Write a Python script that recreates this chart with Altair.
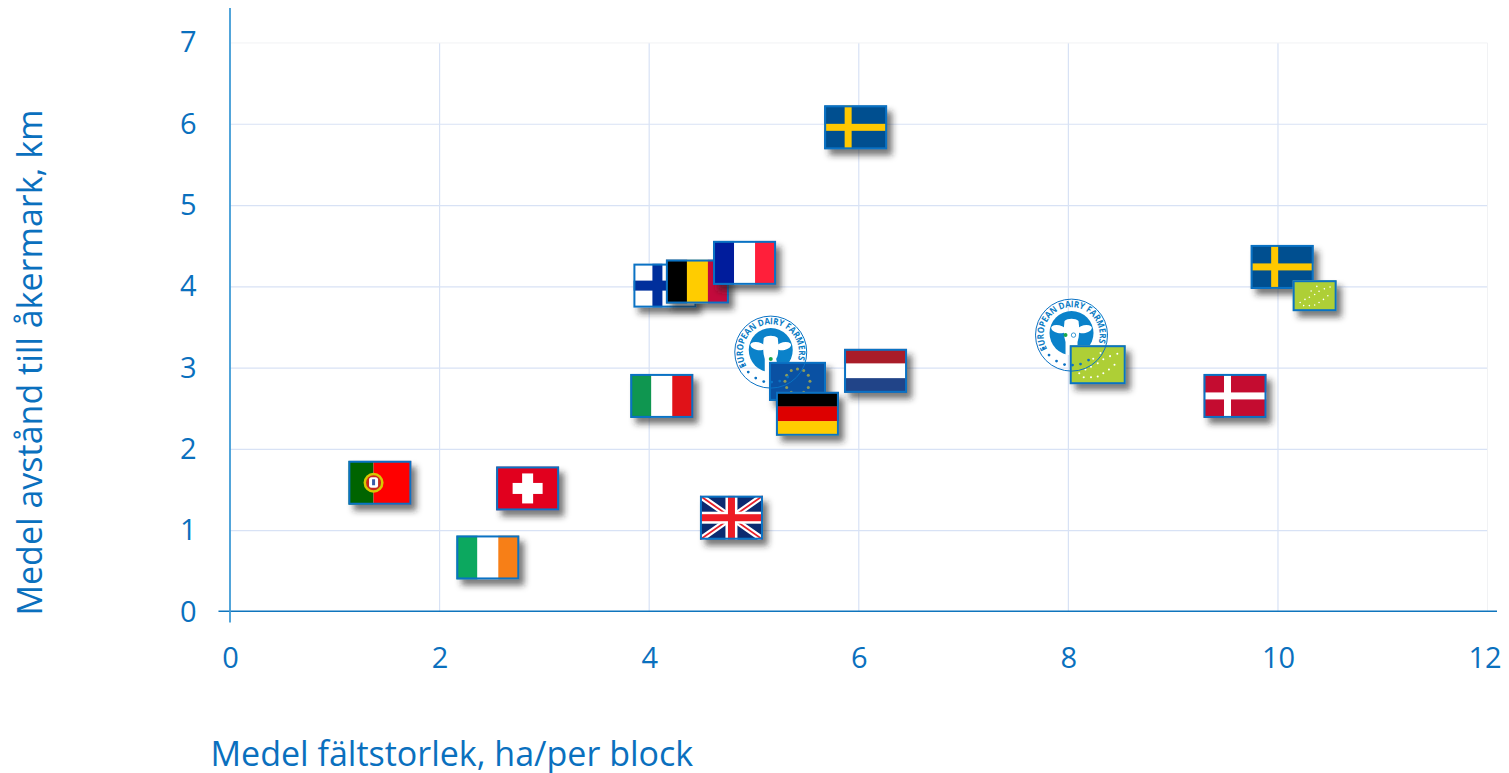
import base64
import math
import altair as alt
import pandas as pd

# ---- values ----
symbols = ["fi", "be", "fr", "se", "se", "eco_s", "logo_base", "eu", "logo_top", "de", "nl", "it",
           "logo_base2", "eco", "logo_top2", "dk", "pt", "ch", "gb", "ie"]
field_size = [4.15, 4.46, 4.91, 5.97, 10.04, 10.35, 5.16, 5.415, 5.16, 5.51, 6.16, 4.12,
              8.03, 8.28, 8.03, 9.59, 1.43, 2.84, 4.785, 2.46]
distance = [4.015, 4.065, 4.295, 5.962, 4.245, 3.891, 3.197, 2.837, 3.197, 2.438, 2.967, 2.658,
            3.406, 3.042, 3.406, 2.658, 1.590, 1.520, 1.160, 0.671]
x_ticks = [0, 2, 4, 6, 8, 10, 12]
y_ticks = [0, 1, 2, 3, 4, 5, 6, 7]
x_title = "Medel fältstorlek, ha/per block"
y_title = "Medel avstånd till åkermark, km"
logo_text = "EUROPEAN DAIRY FARMERS"

BLUE = "#0A70BE"
BORDER = "#0A72C4"
GRID = "#D8E2F5"
FAINT = "#F1F2F4"
FONT = "Open Sans"

PAD = 16


def wrap(w, h, body):
    """Wrap a flag body (drawn in a w x h box) with blue border and soft shadow."""
    b = f'<rect x="1" y="1" width="{w-2}" height="{h-2}" fill="none" stroke="{BORDER}" stroke-width="2"/>'
    return (
        f'<svg xmlns="http://www.w3.org/2000/svg" width="{w+2*PAD}" height="{h+2*PAD}" '
        f'viewBox="{-PAD} {-PAD} {w+2*PAD} {h+2*PAD}">'
        '<defs><filter id="b" x="-30%" y="-40%" width="160%" height="180%">'
        '<feGaussianBlur stdDeviation="3"/></filter>'
        f'<clipPath id="c"><rect width="{w}" height="{h}"/></clipPath></defs>'
        f'<rect x="5" y="6" width="{w}" height="{h}" fill="#222" fill-opacity="0.62" filter="url(#b)"/>'
        f'<g clip-path="url(#c)"><rect width="{w}" height="{h}" fill="#fff"/>{body}</g>{b}</svg>'
    )


def vbands(w, h, cols):
    n = len(cols)
    return "".join(f'<rect x="{w*i/n}" width="{w/n+0.3}" height="{h}" fill="{c}"/>' for i, c in enumerate(cols))


def hbands(w, h, cols):
    n = len(cols)
    return "".join(f'<rect y="{h*i/n}" width="{w}" height="{h/n+0.3}" fill="{c}"/>' for i, c in enumerate(cols))


def nordic(w, h, bg, cross, t=7, cx=None):
    cx = cx if cx is not None else w * 0.37
    return (f'<rect width="{w}" height="{h}" fill="{bg}"/>'
            f'<rect x="{cx-t/2}" width="{t}" height="{h}" fill="{cross}"/>'
            f'<rect y="{h/2-t/2}" width="{w}" height="{t}" fill="{cross}"/>')


def eco_stars(w, h):
    pts = [(0.17, 0.72), (0.28, 0.62), (0.38, 0.55), (0.5, 0.46), (0.6, 0.36), (0.72, 0.28), (0.85, 0.22),
           (0.25, 0.82), (0.38, 0.82), (0.5, 0.8), (0.6, 0.72), (0.7, 0.62), (0.8, 0.5), (0.55, 0.2), (0.42, 0.35)]
    return "".join(f'<circle cx="{w*a}" cy="{h*b}" r="{w*0.018}" fill="#fff"/>' for a, b in pts)


def eu_stars(w, h):
    return "".join(
        f'<circle cx="{w/2+h*0.32*math.cos(i*math.pi/6)}" cy="{h/2+h*0.32*math.sin(i*math.pi/6)}" r="1.5" fill="#8E9C5A"/>'
        for i in range(12))


def portugal(w, h):
    cx, cy = w * 0.40, h * 0.5
    return (f'<rect width="{w*0.4}" height="{h}" fill="#006400"/>'
            f'<rect x="{w*0.4}" width="{w*0.6}" height="{h}" fill="#FF0000"/>'
            f'<circle cx="{cx}" cy="{cy}" r="10" fill="#D8C800"/>'
            f'<circle cx="{cx}" cy="{cy}" r="7.5" fill="#C8281E"/>'
            f'<rect x="{cx-4.5}" y="{cy-5.5}" width="9" height="10.5" rx="2.5" fill="#fff"/>'
            f'<rect x="{cx-1.5}" y="{cy-3.5}" width="3" height="6" fill="#3A5BA8"/>')


def union(w, h):
    return (f'<rect width="{w}" height="{h}" fill="#0B2A70"/>'
            f'<path d="M0 0L{w} {h}M{w} 0L0 {h}" stroke="#fff" stroke-width="6"/>'
            f'<path d="M0 0L{w} {h}M{w} 0L0 {h}" stroke="#E8202A" stroke-width="1.8"/>'
            f'<rect x="{w/2-6}" width="12" height="{h}" fill="#fff"/><rect y="{h/2-6}" width="{w}" height="12" fill="#fff"/>'
            f'<rect x="{w/2-3.5}" width="7" height="{h}" fill="#EE1C25"/><rect y="{h/2-3.5}" width="{w}" height="7" fill="#EE1C25"/>')


def logo_svg(inner):
    s = 74
    return (f'<svg xmlns="http://www.w3.org/2000/svg" width="{s}" height="{s}" viewBox="0 0 {s} {s}">'
            f'{inner}</svg>')


def logo_base(dot):
    cow = ('<ellipse cx="24" cy="31" rx="7.5" ry="4" fill="#fff" transform="rotate(12 24 31)"/>'
           '<ellipse cx="50" cy="31" rx="7.5" ry="4" fill="#fff" transform="rotate(-12 50 31)"/>'
           '<path d="M30 23 C33 20 41 20 44 23 C45 30 45 38 43 44 L43 57 L31 57 L31 44 C29 38 29 30 30 23 Z" fill="#fff"/>')
    return logo_svg(
        '<circle cx="37" cy="35" r="22" fill="#0B82CA"/>'
        f'{cow}'
        f'<circle cx="{dot[0]}" cy="{dot[1]}" r="2" fill="#17A84A"/>'
        f'<circle cx="{dot[0]+8}" cy="{dot[1]}" r="2.2" fill="none" stroke="#0B82CA" stroke-width="0.8"/>'
    )


def logo_top():
    stars = [(9, 50), (14.5, 57), (22, 63), (30, 66.5), (38, 67), (46, 66), (54, 62)]
    return logo_svg(
        '<defs><path id="arc" d="M12.75 51 A28 28 0 1 1 62.4 49"/></defs>'
        f'<circle cx="37" cy="37" r="36" fill="none" stroke="{BORDER}" stroke-width="1"/>'
        f'<text font-family="Open Sans" font-size="9" font-weight="700" fill="#0B7CC4" '
        f'textLength="110" lengthAdjust="spacingAndGlyphs"><textPath href="#arc">{logo_text}</textPath></text>'
        + "".join(f'<circle cx="{a}" cy="{b}" r="1.4" fill="{BORDER}"/>' for a, b in stars)
    )


FW, FH = 63, 44
bodies = {
    "fi": (FW, FH, nordic(FW, FH, "#fff", "#002F9C", 10, 24)),
    "be": (FW, FH, vbands(FW, FH, ["#000", "#FFCC00", "#C30A3C"])),
    "fr": (FW, FH, vbands(FW, FH, ["#001C9C", "#fff", "#FF1F3A"])),
    "se": (FW, FH, nordic(FW, FH, "#004F90", "#FFC800", 7, 24)),
    "eco_s": (44, 31, '<rect width="44" height="31" fill="#AECF36"/>' + eco_stars(44, 31)),
    "eco": (56, 39, '<rect width="56" height="39" fill="#AECF36"/>' + eco_stars(56, 39)),
    "eu": (57, 39, '<rect width="57" height="39" fill="#0A51A3"/>' + eu_stars(57, 39)),
    "de": (FW, FH, hbands(FW, FH, ["#000", "#DD0000", "#FFCC00"])),
    "nl": (FW, FH, hbands(FW, FH, ["#A91C28", "#fff", "#214488"])),
    "it": (FW, FH, vbands(FW, FH, ["#0F9650", "#fff", "#E01218"])),
    "dk": (FW, FH, nordic(FW, FH, "#C40C30", "#fff", 7, 24)),
    "pt": (FW, FH, portugal(FW, FH)),
    "ch": (FW, FH, f'<rect width="{FW}" height="{FH}" fill="#E1001E"/>'
                   f'<rect x="{FW/2-5.5}" y="7" width="11" height="30" fill="#fff"/>'
                   f'<rect x="{FW/2-15}" y="{FH/2-5.5}" width="30" height="11" fill="#fff"/>'),
    "gb": (FW, FH, union(FW, FH)),
    "ie": (FW, FH, vbands(FW, FH, ["#0CA85F", "#fff", "#F77F17"])),
}


def uri(svg):
    return "data:image/svg+xml;base64," + base64.b64encode(svg.encode("utf-8")).decode("ascii")


x_scale = alt.Scale(domain=[0, 12.09], nice=False, zero=False)
y_scale = alt.Scale(domain=[0, 7.43], nice=False, zero=False)

x_axis = alt.Axis(values=x_ticks, grid=False, ticks=False, domain=False, labelFont=FONT, labelFontSize=29,
                  labelColor=BLUE, labelPadding=32, title=x_title, titleFont=FONT, titleFontSize=34,
                  titleFontWeight="normal", titleColor=BLUE, titleX=-20, titleY=126, titleAlign="left",
                  titleAnchor="start", labelFlush=False,
                  labelOffset={"condition": {"test": "datum.value == 12", "value": -3}, "value": 0})
y_axis = alt.Axis(values=y_ticks, grid=False, ticks=False, domain=False, labelFont=FONT, labelFontSize=29,
                  labelColor=BLUE, labelPadding=34, title=y_title, titleFont=FONT, titleFontSize=34,
                  titleFontWeight="normal", titleColor=BLUE, titleX=-182, titleY=354, titleAnchor="middle")

base_x = alt.X("x:Q", scale=x_scale, axis=x_axis)
base_y = alt.Y("y:Q", scale=y_scale, axis=y_axis)

v_grid = alt.Chart(pd.DataFrame({"x": x_ticks[1:-1], "y": [0] * 5, "y2": [7] * 5})).mark_rule(
    color=GRID, strokeWidth=1.2).encode(base_x, base_y, y2="y2:Q")
h_grid = alt.Chart(pd.DataFrame({"y": y_ticks[1:-1], "x": [0] * 6, "x2": [12] * 6})).mark_rule(
    color=GRID, strokeWidth=1.2).encode(base_x, base_y, x2="x2:Q")
top_grid = alt.Chart(pd.DataFrame({"y": [7], "x": [0], "x2": [12]})).mark_rule(
    color=FAINT, strokeWidth=1).encode(base_x, base_y, x2="x2:Q")
right_grid = alt.Chart(pd.DataFrame({"x": [12], "y": [0], "y2": [7]})).mark_rule(
    color=FAINT, strokeWidth=1).encode(base_x, base_y, y2="y2:Q")

x_line = alt.Chart(pd.DataFrame({"x": [-0.11], "x2": [12.09], "y": [0.01]})).mark_rule(
    color="#0F75BD", strokeWidth=1.6).encode(base_x, base_y, x2="x2:Q")
y_line = alt.Chart(pd.DataFrame({"x": [0], "y": [-0.13], "y2": [7.43]})).mark_rule(
    color="#3F9BD6", strokeWidth=1.8).encode(base_x, base_y, y2="y2:Q")

layers = [v_grid, h_grid, top_grid, right_grid, x_line, y_line]
for sym, fx, fy in zip(symbols, field_size, distance):
    if sym.startswith("logo_base"):
        w, h = 74, 74
        svg = logo_base((31, 37) if sym.endswith("2") else (37, 44))
    elif sym.startswith("logo_top"):
        w, h = 74, 74
        svg = logo_top()
    else:
        w, h, body = bodies[sym]
        svg = wrap(w, h, body)
        w, h = w + 2 * PAD, h + 2 * PAD
    d = pd.DataFrame({"x": [fx], "y": [fy], "u": [uri(svg)]})
    layers.append(alt.Chart(d).mark_image(width=w, height=h).encode(base_x, base_y, url="u:N"))

chart = alt.layer(*layers).properties(
    width=1267, height=604,
    padding={"left": 222, "top": 0, "right": 4, "bottom": 161},
    background="#ffffff",
    autosize=alt.AutoSizeParams(type="none"),
).configure_view(stroke=None)

chart.save("out.html", embed_options={"renderer": "svg", "actions": False})
